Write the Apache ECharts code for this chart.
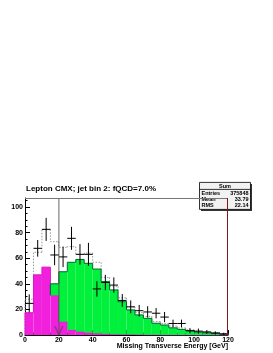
<!DOCTYPE html>
<html><head><meta charset="utf-8">
<script src="https://cdn.jsdelivr.net/npm/echarts@6/dist/echarts.min.js"></script>
<style>html,body{margin:0;padding:0;background:#fff}#c{width:273px;height:353px}</style>
</head><body><div id="c"></div>
<script>
// ---- data ----
const binLow = [0,5,10,15,20,25,30,35,40,45,50,55,60,65,70,75,80,85,90,95,100,105,110,115];
const binWidth = 5;
const qcd   = [17.4,47,53,31,10.4,4,2.6,1.8,1.3,0.9,0.6,0.5,0.4,0.3,0.2,0.2,0.1,0.1,0.1,0.1,0,0,0,0];
const ewk   = [0,0,0,9,39,52.8,56.4,54.2,50.2,40.8,34.6,25.5,19.2,15.4,12.8,9,7.7,5.5,4.3,3,2.2,1.7,1.2,0.8];
const total = [28,64.6,82.5,72.9,68.5,69,63,64,56.8,45,38,29,22,17.5,14.5,10.5,9,7,5.5,4,3,2.4,1.8,1.2];
const dataVals = [24.7,67.7,82.5,62.5,61,75.5,63,63,36,41,39,27,22,19,18,17,14,9,9,3.4,3,2.4,1.6,0.8];
const dataErr  = [7,6.5,9,8,8,9,8,9,6,6,6,5,5,4.5,4.5,4,4,3,3,2,2,1.5,1.3,1];
const xTicks = [0,20,40,60,80,100,120];
const yTicks = [0,20,40,60,80,100];
const yMax = 107;
const cutValue = 20;
const titleText = 'Lepton CMX; jet bin 2: fQCD=7.0%';
const xTitle = 'Missing Transverse Energy [GeV]';
const statsName = 'Sum';
const statsLabels = ['Entries','Mean','RMS'];
const statsValues = ['375848','33.79','22.14'];

const PINK = '#f020dc', GREEN = '#00f03c';
const chart = echarts.init(document.getElementById('c'), null, {renderer:'canvas'});

function histSeries(name, base, vals, fill, stroke, dash, z){
  const data = binLow.map((l,i)=>[l, base ? base[i] : 0, vals[i] + (base?base[i]:0), i, vals[i]]);
  let first = vals.findIndex(v=>v>0);
  return {
    type:'custom', name, z, silent:true,
    data,
    renderItem(params, api){
      const i = api.value(3);
      if (i < first) return {type:'group', children:[]};
      const lo = api.value(0), b = api.value(1), t = api.value(2);
      const p0 = api.coord([lo, b]), p1 = api.coord([lo+binWidth, t]);
      const children = [];
      if (fill) children.push({type:'rect', shape:{x:p0[0], y:p1[1], width:p1[0]-p0[0], height:p0[1]-p1[1]}, style:{fill}});
      const prevTop = i>first ? data[i-1][2] : b;
      const pPrev = api.coord([lo, prevTop]);
      const lineStyle = {stroke, lineWidth:1, fill:null, lineDash: dash||null};
      children.push({type:'polyline', shape:{points:[[p0[0], pPrev[1]],[p0[0], p1[1]],[p1[0], p1[1]]]}, style:lineStyle});
      if (i === binLow.length-1) {
        const pe = api.coord([lo+binWidth, b]);
        children.push({type:'line', shape:{x1:p1[0], y1:p1[1], x2:pe[0], y2:pe[1]}, style:lineStyle});
      }
      return {type:'group', children};
    }
  };
}

const option = {
  animation:false,
  backgroundColor:'#fff',
  title:{ text:titleText, left:26, top:185, padding:0,
    textStyle:{fontFamily:'Liberation Sans', fontWeight:'bold', fontSize:8, color:'#000'} },
  grid:{ left:25, right:45, top:198, bottom:18, containLabel:false },
  xAxis:{ type:'value', min:xTicks[0], max:xTicks[xTicks.length-1], interval:20,
    axisLine:{lineStyle:{color:'#000', width:1}},
    axisTick:{inside:true, length:5, lineStyle:{color:'#000'}},
    minorTick:{show:true, splitNumber:4, length:2.5, lineStyle:{color:'#000'}},
    axisLabel:{fontFamily:'Liberation Sans', fontWeight:'bold', fontSize:7, color:'#000', margin:2},
    splitLine:{show:false} },
  yAxis:{ type:'value', min:yTicks[0], max:yMax, interval:20,
    axisLine:{show:true, lineStyle:{color:'#000', width:1}},
    axisTick:{inside:true, length:5, lineStyle:{color:'#000'}},
    minorTick:{show:true, splitNumber:4, length:2.5, lineStyle:{color:'#000'}},
    axisLabel:{fontFamily:'Liberation Sans', fontWeight:'bold', fontSize:7, color:'#000', margin:2, showMaxLabel:false,
      formatter:v=> yTicks.indexOf(v)>=0 ? String(v) : ''},
    splitLine:{show:false} },
  series:[
    histSeries('total', null, total, null, '#999', [1.5,1.5], 1),
    histSeries('qcd', null, qcd, PINK, '#d818c4', null, 2),
    histSeries('ewk', qcd, ewk, GREEN, '#063', null, 3),
    { type:'custom', name:'data', z:5, silent:true,
      data: binLow.map((l,i)=>[l, dataVals[i], dataErr[i]]),
      renderItem(params, api){
        const lo = api.value(0), v = api.value(1), e = api.value(2);
        const a = api.coord([lo, v]), b = api.coord([lo+binWidth, v]);
        const c = api.coord([lo+binWidth/2, v+e]), d = api.coord([lo+binWidth/2, Math.max(0,v-e)]);
        const st = {stroke:'#000', lineWidth:1};
        return {type:'group', children:[
          {type:'line', shape:{x1:a[0], y1:a[1], x2:b[0], y2:b[1]}, style:st},
          {type:'line', shape:{x1:c[0], y1:c[1], x2:d[0], y2:d[1]}, style:st}
        ]};
      }
    },
    { type:'custom', name:'cut', z:6, silent:true, data:[[cutValue]],
      renderItem(params, api){
        const top = api.coord([api.value(0), yMax]), bot = api.coord([api.value(0), 0]);
        const st = {stroke:'rgba(70,70,70,0.55)', lineWidth:1.5};
        return {type:'group', children:[
          {type:'line', shape:{x1:top[0], y1:top[1], x2:bot[0], y2:bot[1]}, style:st},
          {type:'polyline', shape:{points:[[bot[0]-4, bot[1]-9],[bot[0], bot[1]],[bot[0]+4, bot[1]-9]]}, style:Object.assign({fill:null}, st)}
        ]};
      }
    }
  ],
  graphic:[
    {type:'line', shape:{x1:25, y1:198.5, x2:228, y2:198.5}, style:{stroke:'#777', lineWidth:1}, z:10},
    {type:'line', shape:{x1:227.5, y1:198, x2:227.5, y2:335}, style:{stroke:'#7a1a1a', lineWidth:1}, z:10},
    {type:'text', right:45, top:343, style:{text:xTitle, font:'bold 7px "Liberation Sans"', fill:'#000'}, z:10},
    {type:'group', left:197, top:182, z:20, children:[
      {type:'rect', shape:{x:1.5, y:1.5, width:51, height:27}, style:{fill:'#333'}},
      {type:'rect', shape:{x:0, y:0, width:51, height:27}, style:{fill:'#f2f2f2', stroke:'#000', lineWidth:0.8}},
      {type:'line', shape:{x1:0, y1:7, x2:51, y2:7}, style:{stroke:'#000', lineWidth:0.8}},
      {type:'text', x:25.5, y:1, style:{text:statsName, font:'bold 5.5px "Liberation Sans"', fill:'#000', align:'center'}},
      {type:'text', x:2, y:8.5, style:{text:statsLabels.join('\n'), font:'bold 5.5px "Liberation Sans"', lineHeight:6, fill:'#000'}},
      {type:'text', x:49, y:8.5, style:{text:statsValues.join('\n'), font:'bold 5.5px "Liberation Sans"', lineHeight:6, fill:'#000', align:'right'}}
    ]}
  ]
};
chart.setOption(option);
</script></body></html>
